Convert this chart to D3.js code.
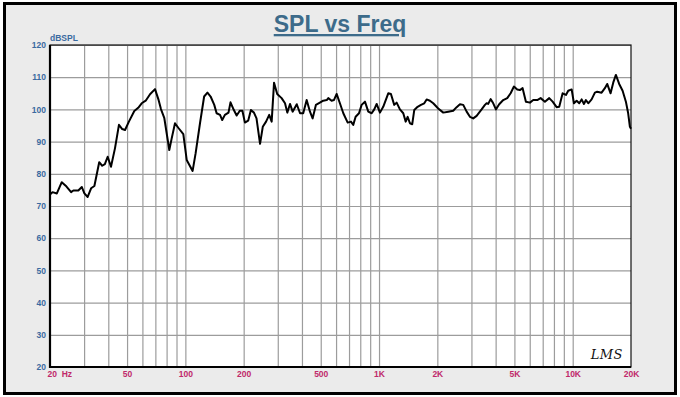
<!DOCTYPE html>
<html>
<head>
<meta charset="utf-8">
<script src="https://cdn.jsdelivr.net/npm/d3@7"></script>
<style>
  body { margin: 0; background: #fff; }
  svg { display: block; font-family: "Liberation Sans", Arial, sans-serif; }
  .grid line { stroke: #9c9c9c; stroke-width: 1.2; }
  .grid path { display: none; }
  .axis path { display: none; }
  .axis line { display: none; }
</style>
</head>
<body>
<svg width="680" height="397"></svg>
<script>
var freqHz = [20,20.6,21.7,23.0,24.1,25.7,26.4,28.0,29.2,30.1,31.3,32.6,33.9,35.9,37.2,38.4,39.7,41.3,43.3,45.4,
  47.2,48.8,51.1,54.5,57.1,59.5,62.4,65.7,69.7,72.5,74.8,77.8,82.6,85.0,88.4,91.9,97.6,101.6,109,
  113,119,125,130,135,141,145,151,155,160,167,171,178,184,191,197,203,211,218,226,
  233,243,251,261,271,279,287,298,314,327,336,347,358,376,391,406,423,440,454,472,
  495,515,537,547,569,585,604,628,
  654,689,716,736,757,788,813,846,880,916,945,972,1011,1051,1116,1152,1198,1233,1282,1334,
  1373,1405,1444,1484,1520,1582,1646,1712,1761,1831,1905,2021,2146,2277,2416,2516,2617,2722,2834,2947,
  3065,3191,3386,3522,
  3594,3662,3769,3888,4013,4174,4377,4592,4781,4972,5171,5338,5513,5733,6014,6255,6561,6829,7188,7565,
  7877,8261,8520,8872,9228,9483,9875,10148,10480,10810,11120,11430,11700,12030,12520,13020,13380,14100,14660,15070,
  15690,16190,16710,17380,18100,18820,19340,19740,20000];

var splDb = [73.6,74.3,73.9,77.4,76.3,74.3,74.8,74.8,75.9,73.9,72.8,75.5,76.2,83.6,82.5,83.0,85.3,82.2,87.9,95.2,
  93.9,93.6,96.2,99.5,100.5,101.9,102.7,104.7,106.3,103.2,100.1,97.4,87.4,91.0,95.7,94.3,92.3,84.3,80.9,
  86.4,95.7,104.0,105.2,104.0,101.4,98.8,98.3,96.7,98.3,99.0,102.2,99.8,98.1,99.6,99.6,95.9,96.5,99.8,99.0,
  97.2,89.3,94.6,96.2,98.3,96.2,108.3,104.8,103.5,101.9,99.0,101.7,99.3,101.6,98.8,98.8,102.9,99.3,97.2,101.4,
  102.1,102.7,102.9,103.5,102.7,102.9,104.8,101.9,
  98.8,95.9,96.2,95.2,97.7,98.8,101.4,102.4,99.3,98.8,100.0,101.7,99.0,100.8,105.0,104.8,101.4,102.1,100.0,98.8,
  96.2,97.7,95.7,95.4,99.8,100.8,101.4,101.9,103.1,102.7,101.9,100.3,99.0,99.3,99.6,100.7,101.6,101.4,99.3,97.7,
  97.2,98.0,100.0,101.4,
  101.9,101.7,103.2,101.9,100.0,101.6,102.9,103.5,105.0,107.1,106.2,106.0,106.6,102.4,102.1,102.9,102.9,103.5,102.4,103.5,
  102.4,100.7,100.8,105.0,104.5,105.8,106.2,101.9,102.7,101.9,103.1,101.7,102.9,101.9,103.1,105.2,105.5,105.2,106.6,107.9,
  105.0,108.3,110.7,107.9,105.8,102.4,98.8,94.6,94.0];

var gridFreqs = [30,40,50,60,70,80,90,100,200,300,400,500,600,700,800,900,1000,
  2000,3000,4000,5000,6000,7000,8000,9000,10000];
var tickFreqs = [20,50,100,200,500,1000,2000,5000,10000,20000];
var tickLabels = ["20  Hz","50","100","200","500","1K","2K","5K","10K","20K"];
var dbTicks = [20,30,40,50,60,70,80,90,100,110,120];

var svg = d3.select("svg");
var margin = { top: 45, right: 49, bottom: 30, left: 50 };
var width = +svg.attr("width") - margin.left - margin.right;
var height = +svg.attr("height") - margin.top - margin.bottom;

// outer panel
svg.append("rect")
  .attr("x", 4.5).attr("y", 3.5)
  .attr("width", 671).attr("height", 390)
  .attr("fill", "#ebebeb")
  .attr("stroke", "#000")
  .attr("stroke-width", 3);

svg.append("text")
  .attr("x", 340).attr("y", 32)
  .attr("text-anchor", "middle")
  .attr("font-size", 23)
  .attr("font-weight", "bold")
  .attr("fill", "#3d6b8a")
  .attr("text-decoration", "underline")
  .text("SPL vs Freq");

var x = d3.scaleLog().domain([20, 20000]).range([0, width]);
var y = d3.scaleLinear().domain([20, 120]).range([height, 0]);

var g = svg.append("g")
  .attr("transform", "translate(" + margin.left + "," + margin.top + ")");

g.append("rect")
  .attr("width", width).attr("height", height)
  .attr("fill", "#fff");

// grid
g.append("g")
  .attr("class", "grid")
  .call(d3.axisLeft(y).tickValues(dbTicks).tickSize(-width).tickFormat(""));

g.append("g")
  .attr("class", "grid")
  .attr("transform", "translate(0," + height + ")")
  .call(d3.axisBottom(x).tickValues(gridFreqs).tickSize(-height).tickFormat(""));

// frame
g.append("rect")
  .attr("width", width).attr("height", height)
  .attr("fill", "none")
  .attr("stroke", "#111")
  .attr("stroke-width", 1.2);
g.append("path")
  .attr("d", "M0,0V" + height + "H" + width)
  .attr("fill", "none")
  .attr("stroke", "#000")
  .attr("stroke-width", 2.2);

// axis labels
var yAxis = g.append("g")
  .attr("class", "axis")
  .call(d3.axisLeft(y).tickValues(dbTicks).tickSize(0).tickPadding(4));
yAxis.selectAll("text")
  .attr("font-size", 8.5)
  .attr("font-weight", "bold")
  .attr("fill", "#3a6aa0");

var xAxis = g.append("g")
  .attr("class", "axis")
  .attr("transform", "translate(0," + height + ")")
  .call(d3.axisBottom(x).tickValues(tickFreqs).tickSize(0).tickPadding(4)
    .tickFormat(function(d, i) { return tickLabels[i]; }));
xAxis.selectAll("text")
  .attr("font-size", 8.5)
  .attr("font-weight", "bold")
  .attr("fill", "#c0296a")
  .style("white-space", "pre")
  .attr("text-anchor", function(d, i) { return i == 0 ? "start" : "middle"; })
  .attr("dx", function(d, i) { return i == 0 ? -3 : 0; });

g.append("text")
  .attr("x", 0).attr("y", -4)
  .attr("font-size", 8.5)
  .attr("font-weight", "bold")
  .attr("fill", "#3a6aa0")
  .text("dBSPL");

// response curve
var pts = freqHz.map(function(f, i) { return [f, splDb[i]]; });
var line = d3.line()
  .x(function(d) { return x(d[0]); })
  .y(function(d) { return y(d[1]); });

g.append("path")
  .datum(pts)
  .attr("d", line)
  .attr("fill", "none")
  .attr("stroke", "#000")
  .attr("stroke-width", 2)
  .attr("stroke-linejoin", "round");

// signature
g.append("text")
  .attr("x", width - 8).attr("y", height - 8)
  .attr("text-anchor", "end")
  .attr("font-family", "'DejaVu Serif', serif")
  .attr("font-style", "italic")
  .attr("font-size", 13)
  .attr("fill", "#111")
  .attr("letter-spacing", 0.5)
  .text("LMS");
</script>
</body>
</html>
